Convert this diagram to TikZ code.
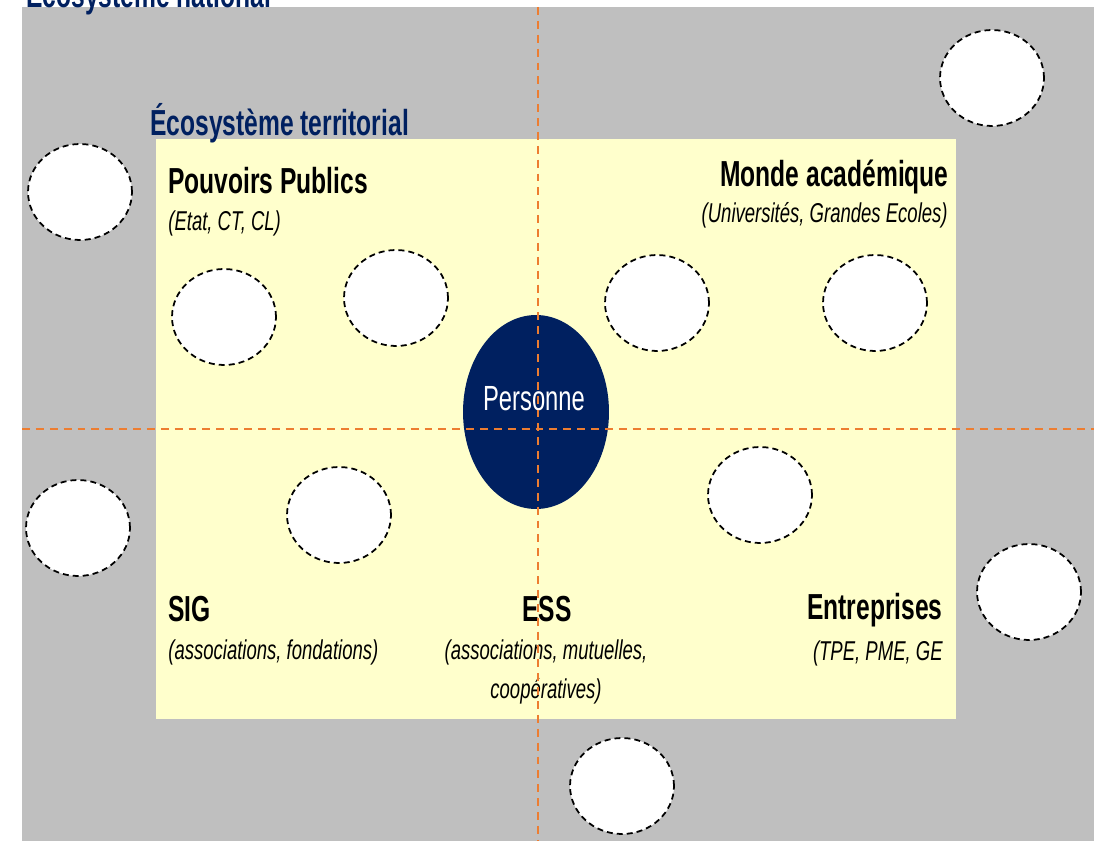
\documentclass[tikz,border=0pt]{standalone}
\usepackage{fontspec}
\setmainfont[FakeStretch=0.68]{Liberation Sans}
\usetikzlibrary{shapes.geometric}
\usetikzlibrary{positioning}
\usepackage{xcolor}
\definecolor{fondgris}{RGB}{191,191,191}
\definecolor{jaunepale}{RGB}{255,255,204}
\definecolor{bleunuit}{RGB}{0,32,96}
\definecolor{orangeaxe}{RGB}{237,125,49}

\tikzset{
  acteur/.style={ellipse, draw=black, fill=white, line width=1pt,
    dash pattern=on 3.4pt off 2.3pt, minimum width=2.08cm, minimum height=1.92cm, inner sep=0pt},
  titre/.style={inner sep=0pt, font=\fontsize{20.6}{24}\selectfont\bfseries},
  sous/.style={inner sep=0pt, font=\fontsize{15.5}{22.2}\selectfont\itshape},
  axe/.style={orangeaxe, line width=1.1pt, dash pattern=on 4.5pt off 3.4pt}
}

\begin{document}
\begin{tikzpicture}[x=0.02cm, y=-0.02cm]
			\path[use as bounding box, clip] (0,0) rectangle (1094,841);
			% fonds
			\fill[fondgris] (22,7) rectangle (1094,841);
			\fill[jaunepale] (156,139) rectangle (956,719);
			% titres des ecosystemes
			\node[titre, bleunuit, anchor=base west] (titreNat) at (26,8) {Écosystème national};
			\node[titre, bleunuit, anchor=base west] (titreTerr) at (150,136) {Écosystème territorial};
			% acteurs non nommes
			\node[acteur] (nat1) at (992,78) {};
			\node[acteur] (nat2) at (80,192) {};
			\node[acteur] (nat3) at (78,528) {};
			\node[acteur] (nat4) at (1029,592) {};
			\node[acteur] (nat5) at (622,786) {};
			\node[acteur] (terr1) at (224,317) {};
			\node[acteur] (terr2) at (396,298) {};
			\node[acteur] (terr3) at (657,303) {};
			\node[acteur] (terr4) at (875,303) {};
			\node[acteur] (terr5) at (339,515) {};
			\node[acteur] (terr6) at (760,495) {};
			% personne au centre
			\node[ellipse, fill=bleunuit, minimum width=2.92cm, minimum height=3.88cm, inner sep=0pt] (personne) at (536,412) {};
			\node[white, inner sep=0pt, anchor=base, font=\fontsize{19.9}{22}\selectfont] (personneTxt) at (534,410) {Personne};
			% les quatre poles
			\node[titre, anchor=base west] (pp) at (168,194) {Pouvoirs Publics};
			\node[sous, anchor=base west] (ppSous) at (168,230) {(Etat, CT, CL)};
			\node[titre, anchor=base east] (ma) at (949,187) {Monde académique};
			\node[sous, anchor=base east] (maSous) at (948,222) {(Universités, Grandes Ecoles)};
			\node[titre, anchor=base west] (sig) at (168,621) {SIG};
			\node[sous, anchor=base west] (sigSous) at (168,659) {(associations, fondations)};
			\node[titre, anchor=base] (ess) at (547,621) {ESS};
			\node[sous, anchor=base, align=center] (essSous) at (546,698) {(associations, mutuelles,\\coopératives)};
			\node[titre, anchor=base east] (ent) at (943,619) {Entreprises};
			\node[sous, anchor=base east] (entSous) at (943,660) {(TPE, PME, GE};
			% axes
			\coordinate (axeHaut) at (538,7);
			\coordinate (axeBas) at (538,841);
			\coordinate (axeGauche) at (22,429);
			\coordinate (axeDroite) at (1094,429);
			\draw[axe] (axeHaut) -- (axeBas);
			\draw[axe] (axeGauche) -- (axeDroite);
		\end{tikzpicture}
\end{document}
